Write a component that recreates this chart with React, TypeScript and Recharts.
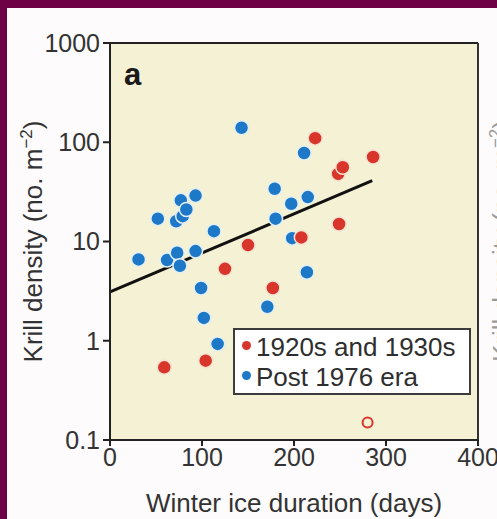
import React from 'react'
import { ScatterChart, Scatter, XAxis, YAxis, CartesianGrid, ReferenceLine, Legend, Label } from 'recharts'

// krill density vs winter ice duration
const earlyX = [59, 104, 125, 150, 177, 208, 223, 248, 253, 249, 286]
const earlyY = [0.54, 0.63, 5.3, 9.2, 3.4, 11, 110, 48, 56, 15, 71]

const postX = [31, 52, 62, 72, 73, 76, 77, 79, 83, 93, 93, 99, 102, 113, 117, 143, 171, 179, 180, 197, 198, 211, 214, 215]
const postY = [6.6, 17, 6.5, 16, 7.7, 5.7, 26, 18, 21, 29, 8, 3.4, 1.7, 12.7, 0.93, 140, 2.2, 34, 17, 24, 10.8, 78, 4.9, 28]

const outlierX = [280]
const outlierY = [0.15]

const fitX = [0, 285]
const fitY = [3.1, 41]

const seriesNames = ['1920s and 1930s', 'Post 1976 era']
const xTicks = [0, 100, 200, 300, 400]
const yTicks = [0.1, 1, 10, 100, 1000]

const RED = '#d8352b'
const BLUE = '#1e78c8'
const FONT = '"Liberation Sans", Arial, Helvetica, sans-serif'

const zip = (xs: number[], ys: number[]) => xs.map((x, i) => ({ x, y: ys[i] }))

const earlyData = zip(earlyX, earlyY)
const postData = zip(postX, postY)
const outlierData = zip(outlierX, outlierY)

const dot = (fill: string, halo: string) => (p: any) => (
  <circle cx={p.cx} cy={p.cy} r={7} fill={fill} stroke={halo} strokeWidth={1.5} />
)

const hollow = (p: any) => (
  <circle cx={p.cx} cy={p.cy} r={5} fill="none" stroke={RED} strokeWidth={2} />
)

const YTitle = (props: any) => {
  const vb = props.viewBox || { x: 0, y: 43, width: 110, height: 397 }
  const x = 42
  const y = vb.y + vb.height / 2
  return (
    <text
      x={x}
      y={y}
      transform={`rotate(-90, ${x}, ${y})`}
      textAnchor="middle"
      fill="#333"
      fontSize={26}
      fontFamily={FONT}
    >
      Krill density (no. m
      <tspan dy={-10} fontSize={17}>−2</tspan>
      <tspan dy={10}>)</tspan>
    </text>
  )
}

const LegendBox = (props: any) => {
  const items = (props.payload || []).filter((it: any) => it.type !== 'none')
  return (
    <div
      style={{
        boxSizing: 'border-box',
        width: 238,
        height: 67,
        border: '2px solid #3c3c3c',
        background: '#fff',
        padding: '2px 0 0 7px',
        fontFamily: FONT,
        fontSize: 26,
        lineHeight: '30px',
        color: '#2e2e2e',
        textAlign: 'left',
      }}
    >
      {items.map((it: any) => (
        <div key={it.value} style={{ display: 'flex', alignItems: 'center', whiteSpace: 'nowrap' }}>
          <span
            style={{
              display: 'inline-block',
              width: 9,
              height: 9,
              borderRadius: '50%',
              background: it.color,
              marginRight: 5,
              marginTop: -4,
            }}
          />
          {it.value}
        </div>
      ))}
    </div>
  )
}

export default function App() {
  return (
    <div
      style={{
        position: 'absolute',
        left: 0,
        top: 0,
        width: 497,
        height: 519,
        overflow: 'hidden',
        background: '#6e0046',
        fontFamily: FONT,
      }}
    >
      <div style={{ position: 'absolute', left: 7, top: 8, right: 0, bottom: 0, background: '#fdfbfb' }} />
      <div style={{ position: 'absolute', left: 0, top: 0 }}>
        <ScatterChart width={497} height={519} margin={{ top: 43, right: 19, bottom: 0, left: 0 }}>
          <CartesianGrid horizontal={false} vertical={false} fill="#f5f1d4" fillOpacity={1} />
          <XAxis
            type="number"
            dataKey="x"
            domain={[0, 400]}
            ticks={xTicks}
            allowDataOverflow
            height={79}
            tickSize={6}
            tickMargin={2}
            axisLine={{ stroke: '#222', strokeWidth: 2 }}
            tickLine={{ stroke: '#222', strokeWidth: 2 }}
            tick={{ fill: '#333', fontSize: 25, fontFamily: FONT }}
            label={{
              value: 'Winter ice duration (days)',
              position: 'insideBottom',
              offset: 7,
              fill: '#333',
              fontSize: 26,
              fontFamily: FONT,
            }}
          />
          <YAxis
            type="number"
            dataKey="y"
            scale="log"
            domain={[0.1, 1000]}
            ticks={yTicks}
            allowDataOverflow
            width={110}
            tickSize={7}
            tickMargin={3}
            tickFormatter={(v: number) => String(v)}
            axisLine={{ stroke: '#222', strokeWidth: 2 }}
            tickLine={{ stroke: '#222', strokeWidth: 2 }}
            tick={{ fill: '#333', fontSize: 25, fontFamily: FONT }}
            label={<Label content={YTitle} />}
          />
          <ReferenceLine y={1000} stroke="#222" strokeWidth={2} />
          <ReferenceLine x={400} stroke="#333" strokeWidth={2} />
          <ReferenceLine
            segment={[
              { x: fitX[0], y: fitY[0] },
              { x: fitX[1], y: fitY[1] },
            ]}
            stroke="#111"
            strokeWidth={3}
          />
          <Scatter
            name={seriesNames[1]}
            data={postData}
            fill={BLUE}
            shape={dot(BLUE, '#e3f0f3')}
            isAnimationActive={false}
          />
          <Scatter
            name={seriesNames[0]}
            data={earlyData}
            fill={RED}
            shape={dot(RED, '#f6e2cf')}
            isAnimationActive={false}
          />
          <Scatter data={outlierData} fill="none" legendType="none" shape={hollow} isAnimationActive={false} />
          <Legend
            layout="vertical"
            align="center"
            verticalAlign="middle"
            content={(p: any) => {
              const order = [seriesNames[0], seriesNames[1]]
              const payload = [...(p.payload || [])].sort(
                (a: any, b: any) => order.indexOf(a.value) - order.indexOf(b.value)
              )
              return <LegendBox payload={payload} />
            }}
            wrapperStyle={{ left: 233, top: 328, width: 238, height: 67 }}
          />
        </ScatterChart>
      </div>
      <svg width={497} height={519} style={{ position: 'absolute', left: 0, top: 0, pointerEvents: 'none' }}>
        <text x={124} y={85} fontSize={31} fontWeight="bold" fill="#1a1a1a" fontFamily={FONT}>
          a
        </text>
        <text
          x={511}
          y={241}
          transform="rotate(-90, 511, 241)"
          textAnchor="middle"
          fill="#9a9a9a"
          fontSize={26}
          fontFamily={FONT}
        >
          Krill density (no. m
          <tspan dy={-10} fontSize={17}>−2</tspan>
          <tspan dy={10}>)</tspan>
        </text>
      </svg>
    </div>
  )
}
